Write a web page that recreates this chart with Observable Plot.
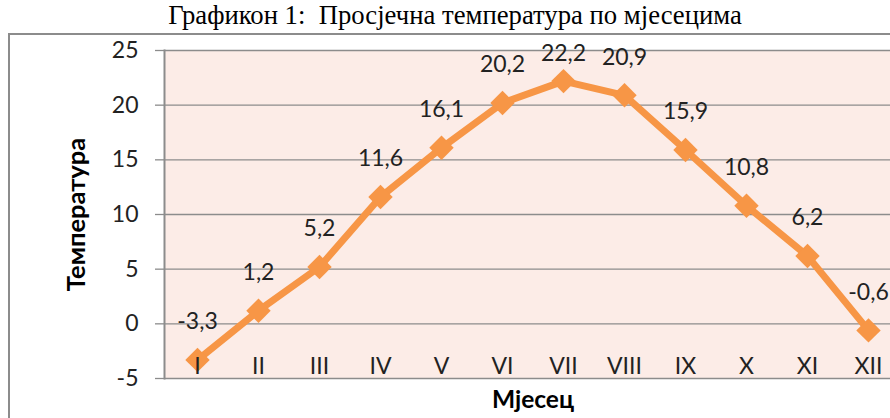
<!DOCTYPE html>
<html>
<head>
<meta charset="utf-8">
<script src="https://cdn.jsdelivr.net/npm/d3@7"></script>
<script src="https://cdn.jsdelivr.net/npm/@observablehq/plot@0.6"></script>
<style>
  html, body { margin: 0; padding: 0; background: #fff; overflow: hidden; }
  #wrap { position: relative; width: 890px; height: 418px; overflow: hidden; }
  #title { position: absolute; left: 0; top: 0px; width: 910px; text-align: center; white-space: nowrap;
           font-family: "Liberation Serif", "Times New Roman", serif; font-size: 26.7px; line-height: 30px; color: #000; }
  #border { position: absolute; left: 8px; top: 33px; width: 1000px; height: 500px;
            border-left: 2px solid #8c8c8c; border-top: 2px solid #8c8c8c; }
  #chart { position: absolute; left: 0; top: 0; width: 901px; }
  #chart svg { max-width: none !important; }
</style>
</head>
<body>
<div id="wrap">
  <div id="title">Графикон 1:&nbsp; Просјечна температура по мјесецима</div>
  <div id="border"></div>
  <div id="chart"></div>
</div>
<script>
const months = ["I", "II", "III", "IV", "V", "VI", "VII", "VIII", "IX", "X", "XI", "XII"];
const temps = [-3.3, 1.2, 5.2, 11.6, 16.1, 20.2, 22.2, 20.9, 15.9, 10.8, 6.2, -0.6];
const yTicks = [-5, 0, 5, 10, 15, 20, 25];
const xTitle = "Мјесец";
const yTitle = "Температура";

const data = months.map((m, i) => ({month: m, t: temps[i], label: String(temps[i]).replace(".", ",")}));

const orange = "#f79646";
const grid = "#8c8c8c";
const sans = "Lato, 'Open Sans', sans-serif";

const chart = Plot.plot({
  width: 901,
  height: 418,
  marginLeft: 164,
  marginRight: 0,
  marginTop: 50,
  marginBottom: 40,
  style: {background: "transparent", fontFamily: sans, fontSize: "23px", color: "#222", maxWidth: "none"},
  x: {type: "point", domain: months, padding: 0.5, axis: null},
  y: {domain: [-5, 25], ticks: yTicks},
  marks: [
    Plot.frame({fill: "#fcece7", stroke: null}),
    Plot.ruleY(yTicks, {stroke: grid, strokeWidth: 1.3}),
    Plot.frame({anchor: "left", stroke: grid, strokeWidth: 2}),
    Plot.axisY({ticks: yTicks, tickFormat: d => String(d), tickSize: 9, tickPadding: 17, stroke: grid, strokeWidth: 1.3,
                fontSize: 23, fill: "#222", label: null}),
    Plot.line(data, {x: "month", y: "t", stroke: orange, strokeWidth: 7}),
    Plot.dot(data, {x: "month", y: "t", symbol: "diamond2", r: 11, fill: orange, stroke: null}),
    Plot.text(data, {x: "month", y: () => -5, text: "month", dy: -12, fontSize: 23, fill: "#222"}),
    Plot.text(data, {x: "month", y: d => Math.min(d.t, 21.2), text: "label", dy: -38, fontSize: 23, fill: "#222"}),
    Plot.text([yTitle], {frameAnchor: "left", textAnchor: "middle", dx: -88, rotate: -90, fontSize: 25.5, fontWeight: "bold", fill: "#000"}),
    Plot.text([xTitle], {frameAnchor: "bottom", textAnchor: "middle", dy: 29, fontSize: 24.5, fontWeight: "bold", fill: "#000"})
  ]
});
document.getElementById("chart").appendChild(chart);
</script>
</body>
</html>
